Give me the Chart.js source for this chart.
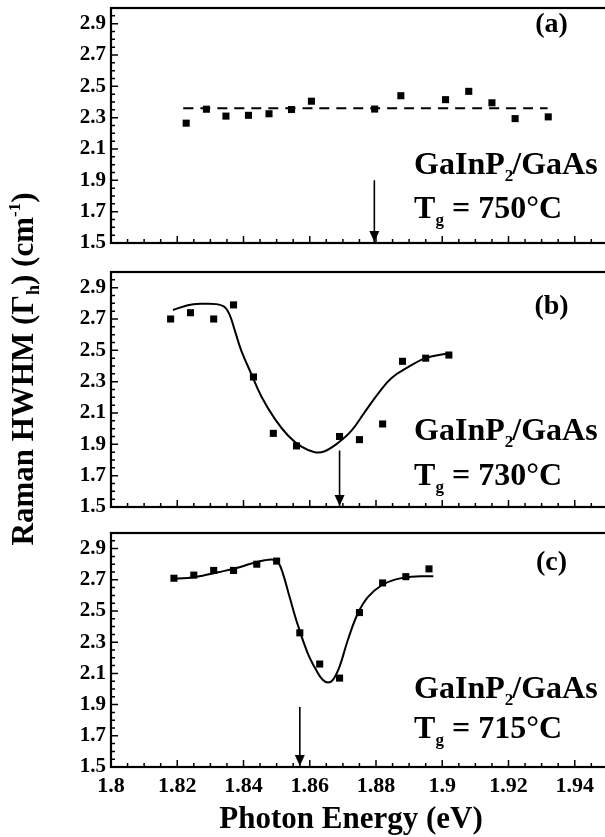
<!DOCTYPE html>
<html>
<head>
<meta charset="utf-8">
<script src="https://cdn.jsdelivr.net/npm/chart.js@4.4.0/dist/chart.umd.min.js"></script>
<style>
  html, body { margin: 0; padding: 0; background: #fff; width: 605px; height: 837px; overflow: hidden; }
  .pc { position: absolute; left: 0; top: 0; }
</style>
</head>
<body>
<canvas id="chartA" class="pc" width="650" height="837"></canvas>
<canvas id="chartB" class="pc" width="650" height="837"></canvas>
<canvas id="chartC" class="pc" width="650" height="837"></canvas>
<script>
// ---------------- DATA ----------------
// Panel (a): Tg = 750 C
const energyA = [1.8227, 1.8288, 1.8347, 1.8415, 1.8477, 1.8545, 1.8605, 1.8796, 1.8875, 1.9010, 1.9080, 1.9150, 1.9220, 1.9320];
const hwhmA   = [2.265, 2.354, 2.310, 2.315, 2.325, 2.352, 2.405, 2.355, 2.440, 2.415, 2.468, 2.395, 2.294, 2.305];
const fitEnergyA = [1.8218, 1.9318];
const fitHwhmA   = [2.36, 2.36];
const arrowEnergyA = [1.8795, 1.8795];
const arrowHwhmA   = [1.90, 1.50];

// Panel (b): Tg = 730 C
const energyB = [1.818, 1.824, 1.831, 1.837, 1.843, 1.849, 1.856, 1.869, 1.875, 1.882, 1.888, 1.895, 1.902];
const hwhmB   = [2.70, 2.74, 2.70, 2.79, 2.33, 1.97, 1.89, 1.95, 1.93, 2.03, 2.43, 2.45, 2.47];
const fitEnergyB = [1.8187, 1.8232, 1.8273, 1.8318, 1.8343, 1.8358, 1.8373, 1.8393, 1.8424, 1.8454, 1.8494, 1.8535,
                    1.8575, 1.8615, 1.8645, 1.8686, 1.8726, 1.8766, 1.8807, 1.8847, 1.8897, 1.8948, 1.8978, 1.9018];
const fitHwhmB   = [2.757, 2.788, 2.797, 2.795, 2.777, 2.728, 2.632, 2.500, 2.347, 2.205, 2.064, 1.955,
                    1.885, 1.850, 1.856, 1.910, 1.987, 2.106, 2.226, 2.324, 2.393, 2.450, 2.466, 2.480];
const arrowEnergyB = [1.869, 1.869];
const arrowHwhmB   = [1.86, 1.50];

// Panel (c): Tg = 715 C
const energyC = [1.819, 1.825, 1.831, 1.837, 1.844, 1.850, 1.857, 1.863, 1.869, 1.875, 1.882, 1.889, 1.896];
const hwhmC   = [2.71, 2.73, 2.76, 2.76, 2.80, 2.82, 2.36, 2.16, 2.07, 2.49, 2.68, 2.72, 2.77];
const fitEnergyC = [1.8184, 1.8232, 1.8273, 1.8323, 1.8373, 1.8424, 1.8464, 1.8489, 1.8504, 1.8519, 1.8539, 1.8564, 1.8594,
                    1.8619, 1.8639, 1.8655, 1.8670, 1.8690, 1.8715, 1.8745, 1.8776, 1.8817, 1.8857, 1.8907, 1.8948, 1.8973];
const fitHwhmC   = [2.708, 2.712, 2.725, 2.748, 2.772, 2.804, 2.825, 2.829, 2.814, 2.740, 2.591, 2.410, 2.229,
                    2.123, 2.059, 2.042, 2.059, 2.144, 2.314, 2.484, 2.591, 2.665, 2.701, 2.719, 2.723, 2.723];
const arrowEnergyC = [1.857, 1.857];
const arrowHwhmC   = [1.885, 1.50];

// Axes / labels
const xTickValues = [1.80, 1.82, 1.84, 1.86, 1.88, 1.90, 1.92, 1.94];
const xTickLabels = ['1.8', '1.82', '1.84', '1.86', '1.88', '1.9', '1.92', '1.94'];
const yTickValues = [1.5, 1.7, 1.9, 2.1, 2.3, 2.5, 2.7, 2.9];
const yTickLabels = ['1.5', '1.7', '1.9', '2.1', '2.3', '2.5', '2.7', '2.9'];
const panelTags   = ['(a)', '(b)', '(c)'];
const growthTemps = ['750', '730', '715'];
const sampleName  = ['GaInP', '2', '/GaAs'];
const xTitle = 'Photon Energy (eV)';
const yTitleParts = ['Raman HWHM (\u0393', 'h', ') (cm', '-1', ')'];

// ---------------- LAYOUT / STYLE ----------------
const SERIF = '"Liberation Serif", "Times New Roman", serif';
const X_MIN = 1.8, X_MAX = 1.96, Y_MIN = 1.5, Y_MAX = 3.0;
const CANVAS_H = 837;
const panelLayout = [
  { top: 8,   bottom: 243, xLabels: false, tagY: 2.89, line1Y: 1.94,  line2Y: 1.66  },
  { top: 272, bottom: 507, xLabels: false, tagY: 2.78, line1Y: 1.925, line2Y: 1.64, yTitle: true },
  { top: 533, bottom: 767, xLabels: true,  tagY: 2.81, line1Y: 1.945, line2Y: 1.685, xTitle: true }
];

function pts(xs, ys) { return xs.map((v, i) => ({ x: v, y: ys[i] })); }

function drawRuns(ctx, x, y, runs) {
  let cx = x;
  for (const r of runs) {
    ctx.font = 'bold ' + r.size + 'px ' + SERIF;
    ctx.fillText(r.t, cx, y + (r.dy || 0));
    cx += ctx.measureText(r.t).width + (r.kern || 0);
  }
  return cx - x;
}
function runsWidth(ctx, runs) {
  let w = 0;
  for (const r of runs) {
    ctx.font = 'bold ' + r.size + 'px ' + SERIF;
    w += ctx.measureText(r.t).width + (r.kern || 0);
  }
  return w;
}

const decoPlugin = {
  id: 'deco',
  afterDatasetsDraw(chart, args, opts) {
    const { ctx, chartArea: a } = chart;
    const xs = chart.scales.x, ys = chart.scales.y;
    ctx.save();
    ctx.fillStyle = '#000';
    ctx.strokeStyle = '#000';
    // frame
    ctx.lineWidth = 2.2;
    ctx.strokeRect(a.left, a.top, a.right - a.left, a.bottom - a.top);
    // inward ticks
    ctx.lineWidth = 1.5;
    ctx.beginPath();
    for (let i = 0; i <= 30; i++) {
      const py = ys.getPixelForValue(Y_MIN + i * 0.05);
      const len = (i % 4 === 0) ? 7 : 4;
      ctx.moveTo(a.left, py); ctx.lineTo(a.left + len, py);
    }
    for (let i = 0; i <= 32; i++) {
      const px = xs.getPixelForValue(X_MIN + i * 0.005);
      const len = (i % 4 === 0) ? 7 : 4;
      ctx.moveTo(px, a.bottom); ctx.lineTo(px, a.bottom - len);
    }
    ctx.stroke();
    // arrow head
    const meta = chart.getDatasetMeta(2);
    const tip = meta.data[1];
    ctx.beginPath();
    ctx.moveTo(tip.x, tip.y - 1);
    ctx.lineTo(tip.x - 5, tip.y - 12);
    ctx.lineTo(tip.x + 5, tip.y - 12);
    ctx.closePath();
    ctx.fill();
    // panel tag
    ctx.textAlign = 'center';
    ctx.textBaseline = 'middle';
    ctx.font = 'bold 28px ' + SERIF;
    ctx.fillText(opts.tag, xs.getPixelForValue(1.933), ys.getPixelForValue(opts.tagY));
    // sample annotation
    ctx.textAlign = 'left';
    ctx.textBaseline = 'alphabetic';
    const tx = xs.getPixelForValue(1.8915);
    drawRuns(ctx, tx, ys.getPixelForValue(opts.line1Y), [
      { t: sampleName[0], size: 32 },
      { t: sampleName[1], size: 17, dy: 7, kern: -1 },
      { t: sampleName[2], size: 32 }
    ]);
    drawRuns(ctx, tx, ys.getPixelForValue(opts.line2Y), [
      { t: 'T', size: 32 },
      { t: 'g', size: 17, dy: 7 },
      { t: ' = ' + opts.temp + '\u00B0C', size: 32 }
    ]);
    // axis titles
    if (opts.yTitle) {
      const runs = [
        { t: yTitleParts[0], size: 31 },
        { t: yTitleParts[1], size: 18, dy: 6 },
        { t: yTitleParts[2], size: 31 },
        { t: yTitleParts[3], size: 17, dy: -13 },
        { t: yTitleParts[4], size: 31 }
      ];
      ctx.translate(33, 369);
      ctx.rotate(-Math.PI / 2);
      const w = runsWidth(ctx, runs);
      drawRuns(ctx, -w / 2, 0, runs);
      ctx.setTransform(1, 0, 0, 1, 0, 0);
    }
    if (opts.xTitle) {
      ctx.textAlign = 'center';
      ctx.font = 'bold 31px ' + SERIF;
      ctx.fillText(xTitle, 351, 828);
    }
    ctx.restore();
  }
};

function makePanel(canvasId, idx, energy, hwhm, fitE, fitH, arrE, arrH, dashed) {
  const L = panelLayout[idx];
  const xAxisH = L.xLabels ? (CANVAS_H - L.bottom) : 0;
  return new Chart(document.getElementById(canvasId), {
    type: 'scatter',
    data: {
      datasets: [
        { data: pts(energy, hwhm), pointStyle: 'rect', pointRadius: 5, pointHoverRadius: 5,
          backgroundColor: '#000', borderWidth: 0, showLine: false },
        { data: pts(fitE, fitH), showLine: true, pointRadius: 0, borderColor: '#000', borderWidth: 2,
          borderDash: dashed ? [10, 7] : [], tension: 0.4, fill: false },
        { data: pts(arrE, arrH), showLine: true, pointRadius: 0, borderColor: '#000', borderWidth: 1.6, fill: false }
      ]
    },
    options: {
      responsive: false,
      animation: false,
      devicePixelRatio: 1,
      events: [],
      layout: { padding: { top: L.top, bottom: CANVAS_H - L.bottom - xAxisH, left: 0, right: 9 } },
      plugins: {
        legend: { display: false },
        tooltip: { enabled: false },
        deco: { tag: panelTags[idx], temp: growthTemps[idx], tagY: L.tagY, line1Y: L.line1Y, line2Y: L.line2Y,
                yTitle: !!L.yTitle, xTitle: !!L.xTitle }
      },
      scales: {
        x: {
          type: 'linear', min: X_MIN, max: X_MAX,
          grid: { display: false, drawTicks: false },
          border: { display: false },
          afterBuildTicks: s => { s.ticks = xTickValues.map(v => ({ value: v })); },
          ticks: {
            display: L.xLabels, autoSkip: false, maxRotation: 0, minRotation: 0, padding: 6,
            color: '#000', font: { family: SERIF, size: 22, weight: 'bold' },
            callback: (v) => { const i = xTickValues.findIndex(t => Math.abs(t - v) < 1e-9); return i >= 0 ? xTickLabels[i] : ''; }
          },
          afterFit: s => { s.height = xAxisH; s.paddingLeft = 0; s.paddingRight = 0; }
        },
        y: {
          type: 'linear', min: Y_MIN, max: Y_MAX,
          grid: { display: false, drawTicks: false },
          border: { display: false },
          afterBuildTicks: s => { s.ticks = yTickValues.map(v => ({ value: v })); },
          ticks: {
            padding: 5, color: '#000', font: { family: SERIF, size: 21, weight: 'bold' },
            callback: (v) => { const i = yTickValues.findIndex(t => Math.abs(t - v) < 1e-9); return i >= 0 ? yTickLabels[i] : ''; }
          },
          afterFit: s => { s.width = 111; s.paddingTop = 0; s.paddingBottom = 0; }
        }
      }
    },
    plugins: [decoPlugin]
  });
}

makePanel('chartA', 0, energyA, hwhmA, fitEnergyA, fitHwhmA, arrowEnergyA, arrowHwhmA, true);
makePanel('chartB', 1, energyB, hwhmB, fitEnergyB, fitHwhmB, arrowEnergyB, arrowHwhmB, false);
makePanel('chartC', 2, energyC, hwhmC, fitEnergyC, fitHwhmC, arrowEnergyC, arrowHwhmC, false);
</script>
</body>
</html>
